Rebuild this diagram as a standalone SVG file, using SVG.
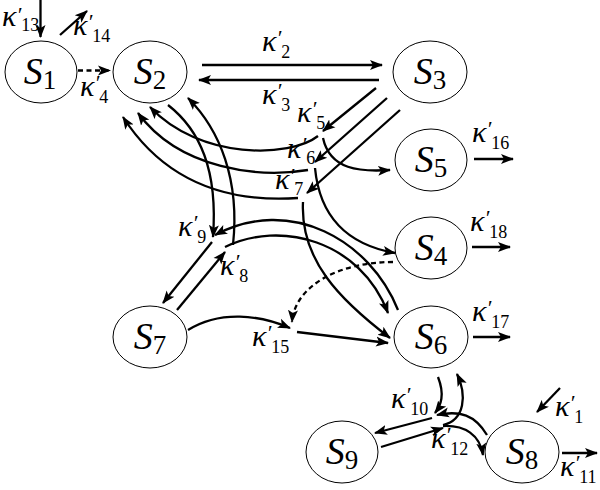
<svg xmlns="http://www.w3.org/2000/svg" width="600" height="490" viewBox="0 0 600 490">
<style>
.node ellipse{fill:#fff;stroke:#000;stroke-width:1}
.lbl{font-family:"Liberation Serif",serif;font-size:38px;fill:#000}
.lbl .s{font-style:italic}
.lbl .n{font-size:27px}
.k{font-family:"Liberation Serif",serif;font-size:30px;font-style:italic;fill:#000}
.k .p{font-size:22px}
.k .b{font-size:18px;font-style:normal}
.e{fill:none;stroke:#000;stroke-width:2.3;marker-end:url(#ah)}
.d{stroke-dasharray:5,3.5}
</style>
<defs>
<marker id="ah" markerUnits="userSpaceOnUse" markerWidth="14" markerHeight="12" refX="12" refY="5" orient="auto" viewBox="0 0 14 10">
<path d="M0,0 L13,5 L0,10 L3,5 z" fill="#000"/>
</marker>
</defs>
<g id="connectors">
<path class="e" d="M40.5,0 L40.5,37"/>
<path class="e" d="M60,35 L87,11"/>
<path class="e d" d="M78,70.5 L110,70.5"/>
<path class="e" d="M202,65 L382,65"/>
<path class="e" d="M379,80 L199,80"/>
<path class="e" d="M376,88 L323,131"/>
<path class="e" d="M387,98 L315,162"/>
<path class="e" d="M400,110 L307,193"/>
<path class="e" d="M318,136 C290,158 200,160 150,107"/>
<path class="e" d="M308,170 C260,178 180,170 138,113"/>
<path class="e" d="M298,198 C240,202 170,190 123,117"/>
<path class="e" d="M323,138 C330,170 360,172 390,170"/>
<path class="e" d="M315,168 C320,220 350,245 395,253"/>
<path class="e" d="M303,202 C300,260 340,300 390,338"/>
<path class="e" d="M168,105 C200,130 218,170 213,237"/>
<path class="e" d="M233,245 C240,180 220,130 188,98"/>
<path class="e" d="M398,310 C370,240 290,195 215,235"/>
<path class="e" d="M225,247 C280,220 360,240 388,313"/>
<path class="e" d="M212,242 L163,303"/>
<path class="e" d="M177,310 L225,252"/>
<path class="e" d="M188,330 C220,310 260,315 290,328"/>
<path class="e d" d="M393,262 C340,262 295,285 292,322"/>
<path class="e" d="M297,332 L388,343"/>
<path class="e" d="M474,159 L513,159"/>
<path class="e" d="M472,247 L510,247"/>
<path class="e" d="M473,337 L510,337"/>
<path class="e" d="M438,377 C445,395 441,405 435,413"/>
<path class="e" d="M432,418 L375,433"/>
<path class="e" d="M487,435 C475,415 460,410 437,415"/>
<path class="e" d="M381,447 L443,428"/>
<path class="e" d="M443,425 C465,420 467,395 457,374"/>
<path class="e" d="M443,426 C465,425 480,435 483,455"/>
<path class="e" d="M560,388 L537,412"/>
<path class="e" d="M562,453 L597,453"/>
</g>
<g id="labels">
<text class="k" x="2" y="26">κ<tspan class="p" dy="-4">′</tspan><tspan class="b" dy="9">13</tspan></text>
<text class="k" x="73" y="35">κ<tspan class="p" dy="-6">′</tspan><tspan class="b" dy="13">14</tspan></text>
<text class="k" x="80" y="96">κ<tspan class="p" dy="-6">′</tspan><tspan class="b" dy="13">4</tspan></text>
<text class="k" x="262" y="51">κ<tspan class="p" dy="-6">′</tspan><tspan class="b" dy="13">2</tspan></text>
<text class="k" x="262" y="104">κ<tspan class="p" dy="-6">′</tspan><tspan class="b" dy="13">3</tspan></text>
<text class="k" x="297" y="122">κ<tspan class="p" dy="-6">′</tspan><tspan class="b" dy="13">5</tspan></text>
<text class="k" x="287" y="158">κ<tspan class="p" dy="-6">′</tspan><tspan class="b" dy="12">6</tspan></text>
<text class="k" x="275" y="189">κ<tspan class="p" dy="-6">′</tspan><tspan class="b" dy="12">7</tspan></text>
<text class="k" x="178" y="236">κ<tspan class="p" dy="-6">′</tspan><tspan class="b" dy="13">9</tspan></text>
<text class="k" x="220" y="275">κ<tspan class="p" dy="-6">′</tspan><tspan class="b" dy="13">8</tspan></text>
<text class="k" x="252" y="346">κ<tspan class="p" dy="-6">′</tspan><tspan class="b" dy="13">15</tspan></text>
<text class="k" x="472" y="142">κ<tspan class="p" dy="-6">′</tspan><tspan class="b" dy="13">16</tspan></text>
<text class="k" x="470" y="231">κ<tspan class="p" dy="-6">′</tspan><tspan class="b" dy="13">18</tspan></text>
<text class="k" x="472" y="321">κ<tspan class="p" dy="-6">′</tspan><tspan class="b" dy="13">17</tspan></text>
<text class="k" x="391" y="408">κ<tspan class="p" dy="-6">′</tspan><tspan class="b" dy="13">10</tspan></text>
<text class="k" x="431" y="448">κ<tspan class="p" dy="-6">′</tspan><tspan class="b" dy="13">12</tspan></text>
<text class="k" x="555" y="416">κ<tspan class="p" dy="-6">′</tspan><tspan class="b" dy="13">1</tspan></text>
<text class="k" x="560" y="476">κ<tspan class="p" dy="-6">′</tspan><tspan class="b" dy="13">11</tspan></text>
</g>
<g id="S1" class="node"><ellipse cx="41" cy="72" rx="36" ry="31"/><text class="lbl" x="40" y="84" text-anchor="middle"><tspan class="s">S</tspan><tspan class="n" dy="5">1</tspan></text></g>
<g id="S2" class="node"><ellipse cx="150" cy="72" rx="37" ry="31"/><text class="lbl" x="150" y="84" text-anchor="middle"><tspan class="s">S</tspan><tspan class="n" dy="5">2</tspan></text></g>
<g id="S3" class="node"><ellipse cx="430" cy="72" rx="37" ry="31"/><text class="lbl" x="430" y="84" text-anchor="middle"><tspan class="s">S</tspan><tspan class="n" dy="5">3</tspan></text></g>
<g id="S5" class="node"><ellipse cx="431" cy="160" rx="36" ry="31"/><text class="lbl" x="431" y="172" text-anchor="middle"><tspan class="s">S</tspan><tspan class="n" dy="5">5</tspan></text></g>
<g id="S4" class="node"><ellipse cx="431" cy="248" rx="36" ry="31"/><text class="lbl" x="431" y="260" text-anchor="middle"><tspan class="s">S</tspan><tspan class="n" dy="5">4</tspan></text></g>
<g id="S6" class="node"><ellipse cx="431" cy="337" rx="37" ry="31"/><text class="lbl" x="431" y="349" text-anchor="middle"><tspan class="s">S</tspan><tspan class="n" dy="5">6</tspan></text></g>
<g id="S7" class="node"><ellipse cx="150" cy="337" rx="37" ry="31"/><text class="lbl" x="150" y="349" text-anchor="middle"><tspan class="s">S</tspan><tspan class="n" dy="5">7</tspan></text></g>
<g id="S9" class="node"><ellipse cx="342" cy="452" rx="36" ry="31"/><text class="lbl" x="342" y="464" text-anchor="middle"><tspan class="s">S</tspan><tspan class="n" dy="5">9</tspan></text></g>
<g id="S8" class="node"><ellipse cx="522" cy="452" rx="37" ry="31"/><text class="lbl" x="522" y="464" text-anchor="middle"><tspan class="s">S</tspan><tspan class="n" dy="5">8</tspan></text></g>
</svg>
